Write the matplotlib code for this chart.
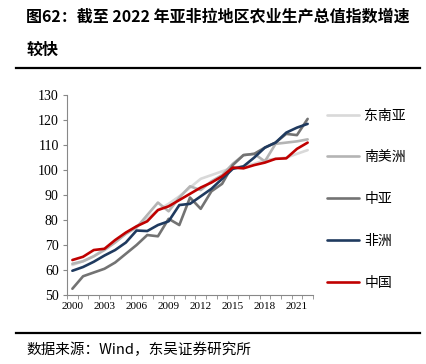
import numpy as np
import matplotlib
matplotlib.use("Agg")
import matplotlib.pyplot as plt
from matplotlib.lines import Line2D

plt.rcParams['font.family'] = ['Noto Sans CJK SC', 'DejaVu Sans']

# data (index, by year)
years = list(range(2000, 2023))
se_asia = [62, 63.5, 65.5, 68.5, 71.5, 74.5, 77.5, 80.5, 84, 86.5, 89.5, 93, 96.5,
           98, 99.5, 101, 101.5, 102.5, 104, 104.5, 105, 106.5, 108]
s_america = [62.5, 63.5, 65.5, 68, 71, 74.5, 77, 82, 87, 83.5, 89, 93.5, 92,
             95.5, 98, 102.5, 106, 106.5, 103.5, 110.5, 111, 111.5, 112.3]
c_asia = [52.5, 57.5, 59, 60.5, 63, 66.5, 70, 74, 73.5, 80.5, 78, 89, 84.5,
          91.5, 94.5, 102, 106, 106.5, 109, 111, 114.5, 114, 120.5]
africa = [59.7, 61.2, 63.3, 65.8, 68, 71, 75.8, 75.6, 78, 79.5, 86, 86.5, 89.5,
          92.5, 96.5, 100.5, 101.5, 105, 109, 111, 115, 117, 118.5]
china = [64, 65.3, 68, 68.5, 72, 75, 77.5, 79.5, 84, 85.5, 88, 90.5, 93,
         95, 97.5, 101, 100.7, 102, 103, 104.5, 104.7, 108.5, 111]

names = ['东南亚', '南美洲', '中亚', '非洲', '中国']
colors = ['#d9d9d9', '#b4b4b4', '#737373', '#1f3a5f', '#c00000']
series = [se_asia, s_america, c_asia, africa, china]

fig = plt.figure(figsize=(4.27, 3.64), dpi=100)
ax = fig.add_axes([0.157, 0.1896, 0.576, 0.549])

for vals, c, n in zip(series, colors, names):
    ax.plot(years, vals, color=c, lw=1.9, label=n, solid_joinstyle='round', solid_capstyle='round')

ax.set_xlim(1999.5, 2022.5)
ax.set_ylim(50, 130)
ax.set_yticks(range(50, 131, 10))
ax.set_xticks(range(2000, 2022, 3))
ax.set_xticks(np.arange(1999.5, 2023, 1), minor=True)
ax.tick_params(axis='x', which='major', length=0, pad=5, labelsize=8)
ax.tick_params(axis='x', which='minor', length=3, color='#888888')
ax.tick_params(axis='y', length=3, color='#888888', labelsize=10, pad=3)
for lab in ax.get_xticklabels() + ax.get_yticklabels():
    lab.set_family('Liberation Serif')
for s in ['top', 'right']:
    ax.spines[s].set_visible(False)
for s in ['left', 'bottom']:
    ax.spines[s].set_color('#888888')
    ax.spines[s].set_linewidth(0.8)

ax.legend(loc='center left', bbox_to_anchor=(1.005, 0.48), frameon=False,
          labelspacing=2.0, handlelength=2.3, handletextpad=0.4, fontsize=10)

fig.text(0.061, 0.953, '图62：截至 2022 年亚非拉地区农业生产总值指数增速', fontsize=11.5,
         fontweight='bold', va='center', ha='left')
fig.text(0.061, 0.862, '较快', fontsize=11.5, fontweight='bold', va='center', ha='left')
fig.add_artist(Line2D([0.037, 0.984], [0.813, 0.813], color='black', lw=1.6))
fig.add_artist(Line2D([0.037, 0.984], [0.085, 0.085], color='black', lw=1.6))
fig.text(0.061, 0.038, '数据来源：Wind，东吴证券研究所', fontsize=10.5, va='center', ha='left')

fig.savefig('out.png', dpi=100)
